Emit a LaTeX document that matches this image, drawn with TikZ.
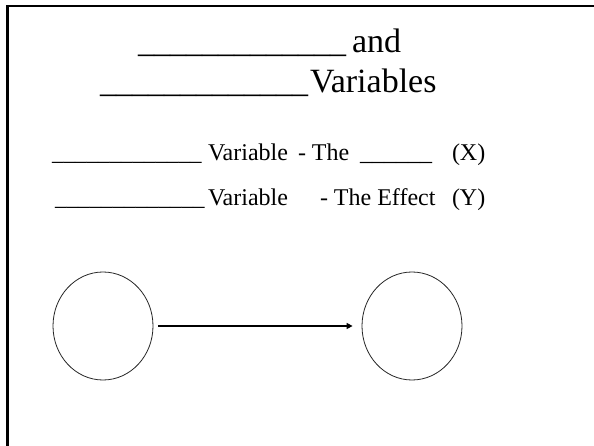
\documentclass[tikz,border=0pt]{standalone}
\usepackage{fontspec}
\setmainfont{Liberation Serif}
\usetikzlibrary{arrows.meta,shapes.geometric}
\begin{document}
\begin{tikzpicture}[x=1pt,y=-1pt,
  txt/.style={anchor=base west,inner sep=0pt,outer sep=0pt},
  ttl/.style={txt,font=\fontsize{34}{38}\selectfont},
  ttlu/.style={txt,font=\fontsize{32}{36}\selectfont},
  bdy/.style={txt,font=\fontsize{24}{28}\selectfont},
  bdyu/.style={txt,font=\fontsize{23}{27}\selectfont},
  varcircle/.style={ellipse,draw=black!85,line width=0.8pt,minimum width=100pt,minimum height=108pt,inner sep=0pt},
  frameline/.style={line width=2.6pt,black}]
\useasboundingbox (0,0) rectangle (594,446);
% open frame
\coordinate (ftopr) at (594,6);
\coordinate (fcorner) at (7.5,6);
\coordinate (fbot) at (7.5,446);
\draw[frameline] (ftopr) -- (fcorner) -- (fbot);
% title
\node[ttlu] (t1a) at (138,53) {\_\_\_\_\_\_\_\_\_\_\_\_\_};
\node[ttl] (t1b) at (352,53) {and};
\node[ttlu] (t2a) at (100,93) {\_\_\_\_\_\_\_\_\_\_\_\_\_};
\node[ttl] (t2b) at (310,93) {Variables};
% body line A
\node[bdyu] (a1) at (52,161) {\_\_\_\_\_\_\_\_\_\_\_\_\_};
\node[bdy] (a2) at (208,161) {Variable};
\node[bdy] (a3) at (298,161) {- The};
\node[bdy] (a4) at (360,161) {\_\_\_\_\_\_};
\node[bdy] (a5) at (452,161) {(X)};
% body line B
\node[bdyu] (b1) at (55,206) {\_\_\_\_\_\_\_\_\_\_\_\_\_};
\node[bdy] (b2) at (208,206) {Variable};
\node[bdy] (b3) at (320,206) {- The Effect};
\node[bdy] (b4) at (452,206) {(Y)};
% circles and arrow
\node[varcircle] (cx) at (103,326) {};
\node[varcircle] (cy) at (412,326) {};
\draw[line width=1.8pt,-{Triangle[length=6pt,width=6pt]},shorten <=5pt,shorten >=9pt] (cx.east) -- (cy.west);
\end{tikzpicture}
\end{document}
